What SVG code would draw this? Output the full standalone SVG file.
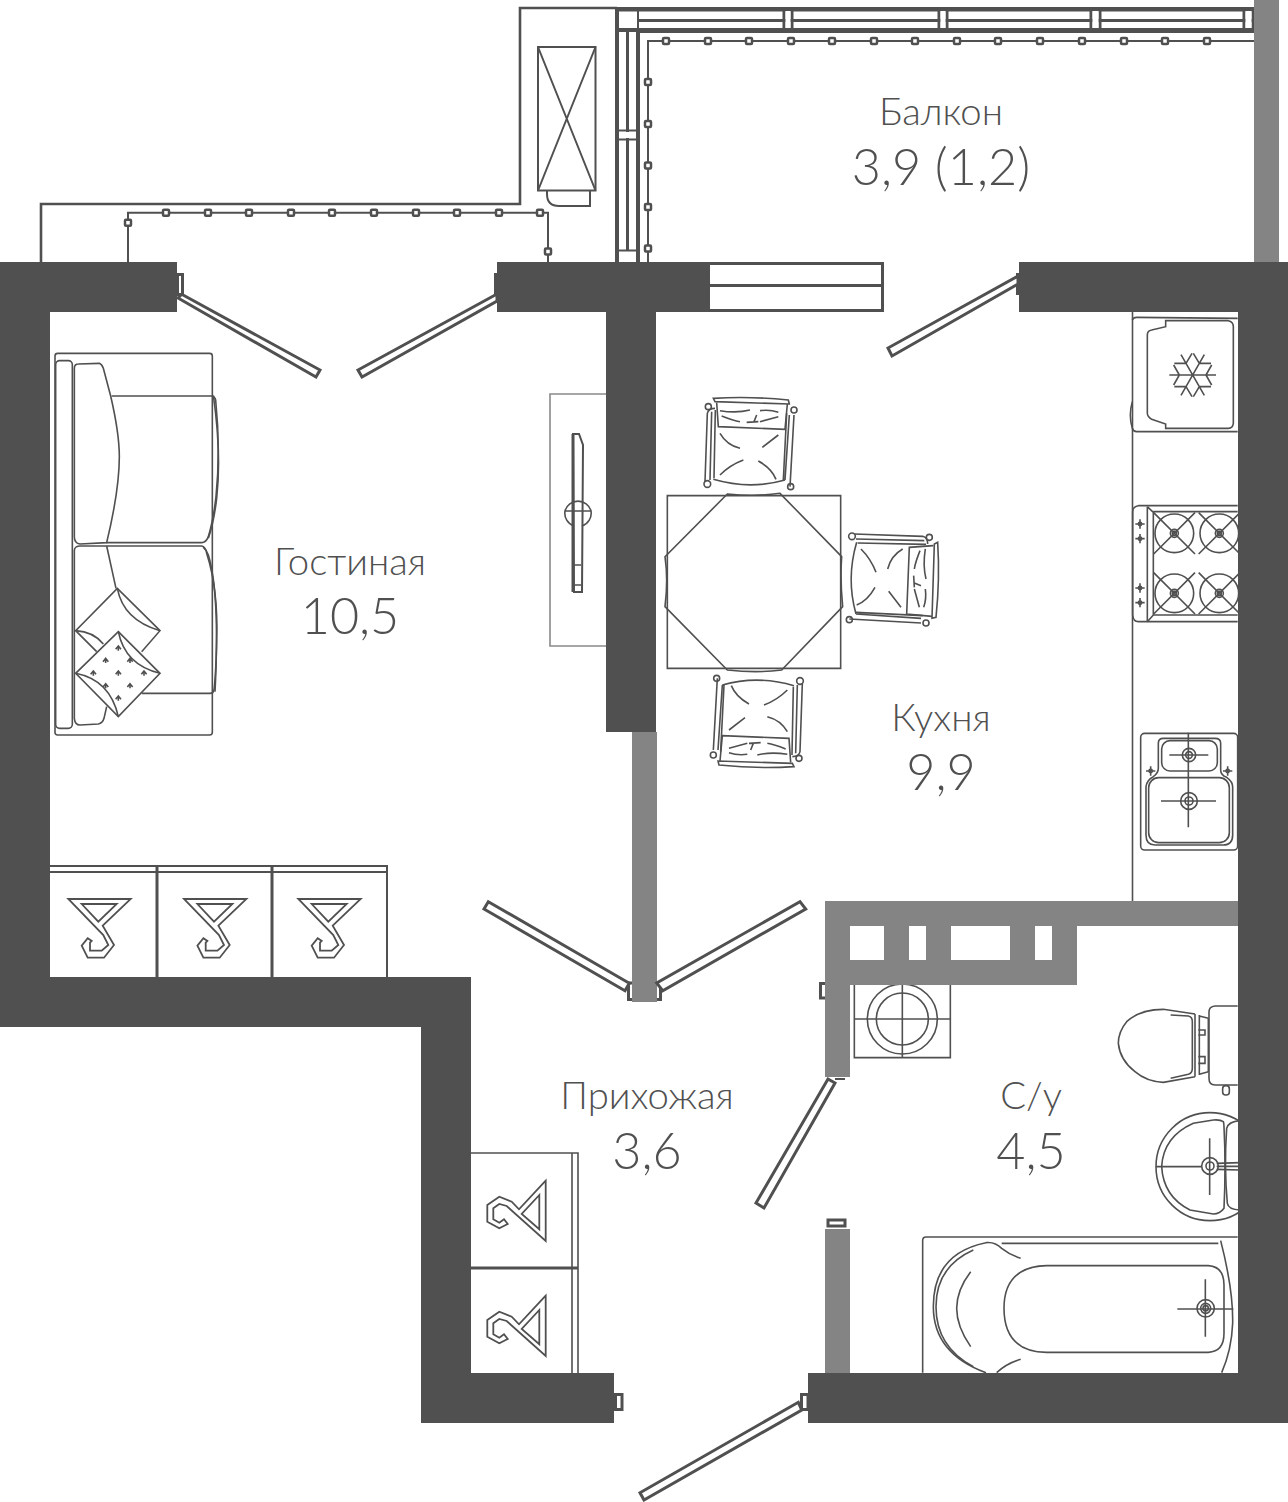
<svg xmlns="http://www.w3.org/2000/svg" width="1288" height="1502" viewBox="0 0 1288 1502">
<style>
.w{fill:#505050}
.g{fill:#848484}
.l3{fill:none;stroke:#505050;stroke-width:3}
.l2{fill:none;stroke:#505050;stroke-width:2}
.o{fill:none;stroke:#505050;stroke-width:2.600}
.h{fill:none;stroke:#505050;stroke-width:1.800}
.f *,.f{fill:none;stroke:#505050;stroke-width:1.600;vector-effect:non-scaling-stroke}
.door{fill:#fff;stroke:#505050;stroke-width:3}
.sq{fill:#fff;stroke:#505050;stroke-width:2.500}
.lab{font-family:"Lato","Liberation Sans",sans-serif;font-weight:300;fill:#505050;text-anchor:middle;font-size:38.300px}
.num{font-size:50.300px}
</style>
<defs>
<rect id="s" class="sq" x="-3" y="-3" width="6" height="6" rx="1"/>
<g id="hookA"><path class="h" d="M68.300 899L130.700 899L102.700 925.700L114 945L104 957.700L87.700 957.700L81.700 945.700L87.700 938.300L91.700 941L90 942.700L90 950.700L101.700 950.700L108.300 945L103.300 935Z"/><path class="h" d="M81.700 904L116.700 904L98.300 921.700Z"/></g>
<g id="hookB"><path class="h" d="M545.700 1180.700L519 1209.300L511.700 1201.700L499.300 1196.700L487.300 1205L487.300 1221.700L499.300 1228.300L507.700 1224L504 1219.300L499.300 1222.700L493.300 1219.300L493.300 1208.300L499.300 1204L506.700 1206L545.700 1241Z"/><path class="h" d="M539.300 1195L521.700 1214L539.300 1229.300Z"/></g>
<g id="chair" class="f">
<path d="M190,55 Q300,48 415,60 L418,72 L195,65 Z"/>
<path d="M200,68 L205,140 L405,148 L412,72"/>
<path d="M190,298 Q300,330 405,300"/>
<path d="M165,305 L172,100 Q175,85 195,85 M180,300 L185,95 M192,295 L196,90 M418,105 L405,300 M432,105 L420,320 M410,100 L400,300"/>
<circle cx="175" cy="80" r="9"/><circle cx="432" cy="90" r="9"/><circle cx="172" cy="312" r="10"/><circle cx="422" cy="320" r="9"/>
<path d="M210,160 Q230,195 270,205 M385,165 L337,202 M210,285 Q240,255 280,240 M325,243 Q365,265 378,298"/>
<path d="M210,92 Q260,100 300,90 M330,92 Q360,88 385,97 M215,108 Q250,122 270,125 M330,125 L385,110 M290,127 L325,125 M320,105 L312,125"/>
</g>
<path id="star" class="f" d="M-8,3 L0,-7 L8,3 M0,-7 L0,7"/>
<g id="knob" class="f"><circle r="5"/><path d="M-14,0H14M0,-14V14"/></g>
<g id="burner" class="f"><circle r="58"/><circle r="12"/><circle r="6"/><path d="M-62,-62L62,62M62,-62L-62,62"/></g>
</defs>
<rect width="1288" height="1502" fill="#fff"/>

<g id="balcony-frame">
<path class="o" d="M41 262V204H520V8H617"/>
<rect class="w" x="615" y="7" width="640" height="4.500"/>
<rect class="w" x="636" y="28" width="619" height="5"/>
<rect class="w" x="639" y="19" width="615" height="3"/>
<rect class="w" x="615" y="7" width="4" height="255"/>
<rect class="w" x="636" y="28" width="4" height="234"/>
<rect class="w" x="619" y="28" width="17" height="4"/>
<rect class="w" x="626" y="31" width="3" height="220"/>
<path class="l2" d="M638 11V28"/>
<path class="l2" d="M619 130.500H636M619 139.500H636M619 250.500H636"/>
<rect x="619" y="132" width="17" height="6" fill="#fff"/>
<path fill="none" stroke="#505050" stroke-width="3" d="M784 11V28M792 11V28M939 11V28M947 11V28M1091 11V28M1100 11V28M1244 11V28M1253 11V28"/>
<rect x="785.500" y="11" width="5" height="17" fill="#fff"/><rect x="940.500" y="11" width="5" height="17" fill="#fff"/><rect x="1092.500" y="11" width="6" height="17" fill="#fff"/><rect x="1245.500" y="11" width="6" height="17" fill="#fff"/>
<rect class="g" x="1254" y="0" width="25" height="262"/>
</g>

<g id="connectors">
<path class="l2" d="M548 262V212.700H128V262"/>
<path class="l2" d="M648 262V41H1254"/>
<use href="#s" x="128" y="222.700"/><use href="#s" x="166" y="212.700"/><use href="#s" x="208" y="212.700"/><use href="#s" x="249" y="212.700"/><use href="#s" x="291" y="212.700"/><use href="#s" x="332" y="212.700"/><use href="#s" x="374" y="212.700"/><use href="#s" x="416" y="212.700"/><use href="#s" x="457" y="212.700"/><use href="#s" x="499" y="212.700"/><use href="#s" x="540" y="212.700"/><use href="#s" x="548" y="251.500"/>
<use href="#s" x="666" y="41"/><use href="#s" x="708" y="41"/><use href="#s" x="749" y="41"/><use href="#s" x="791" y="41"/><use href="#s" x="832" y="41"/><use href="#s" x="874" y="41"/><use href="#s" x="915" y="41"/><use href="#s" x="957" y="41"/><use href="#s" x="998" y="41"/><use href="#s" x="1040" y="41"/><use href="#s" x="1082" y="41"/><use href="#s" x="1124" y="41"/><use href="#s" x="1165" y="41"/><use href="#s" x="1207" y="41"/>
<use href="#s" x="648" y="82"/><use href="#s" x="648" y="124"/><use href="#s" x="648" y="165.500"/><use href="#s" x="648" y="207"/><use href="#s" x="648" y="248.500"/>
</g>

<g id="ac-unit" class="l2">
<rect x="538" y="47" width="57.500" height="143.500"/>
<path d="M538 47L595.500 190.500M595.500 47L538 190.500"/>
<path d="M547 191V194Q547 206 559 206H590V191"/>
</g>

<g id="sofa" transform="translate(40 340) scale(.33333)" class="f">
<rect x="45" y="40" width="472" height="1145" rx="8"/>
<rect x="47" y="62" width="50" height="1103" rx="12"/>
<path d="M103,85 Q103,72 115,72 L178,70 Q185,72 190,85 L212,168 Q238,280 238,350 Q238,450 200,608 L120,612 Q103,610 103,590 Z"/>
<path d="M215,168 L515,168 Q525,170 527,180 Q542,330 528,470 Q520,540 505,590 Q498,608 485,608 L200,608"/>
<path d="M520,166 Q545,340 530,475 Q522,545 505,595"/>
<path d="M103,630 Q105,618 120,618 L485,618 Q497,620 500,640 Q535,750 530,900 Q528,1000 522,1050 Q520,1060 510,1060 L305,1060"/>
<path d="M490,622 Q500,630 505,645 Q540,760 525,1055"/>
<path d="M103,630 L103,1135 Q105,1155 120,1155 L175,1152 Q188,1150 192,1135 L200,1100"/>
<path d="M200,618 L228,745"/>
<path d="M305,935 L360,872 L232,745 L107,872 L170,935"/>
<path d="M232,745 Q250,840 360,872 M107,872 Q160,875 190,912"/>
<path d="M235,875 L360,1000 L235,1130 L107,1000 Z" style="fill:#fff"/>
<path d="M235,875 Q255,975 360,1000 M107,1000 Q210,1020 235,1130"/>
<use href="#star" x="235" y="925"/><use href="#star" x="197" y="962"/><use href="#star" x="270" y="962"/><use href="#star" x="160" y="1000"/><use href="#star" x="235" y="1000"/><use href="#star" x="312" y="1000"/><use href="#star" x="197" y="1038"/><use href="#star" x="270" y="1038"/><use href="#star" x="235" y="1075"/>
</g>

<g id="tv" class="f">
<rect x="550" y="394" width="58" height="252" style="stroke:#8a8a8a"/>
<path d="M573 434L579 434L583 445L582 592H574Z" style="stroke-width:2"/>
<path d="M573 434V592" style="stroke-width:3"/>
<path d="M565 511A13.500 13.500 0 0 1 591 511M565 511H591M565 511A13.500 13.500 0 0 0 574 526M582 526A13.500 13.500 0 0 0 591 511"/>
<path d="M574 565H581M574 585H581"/>
</g>

<g id="dining" transform="translate(650 380) scale(.33333)" class="f">
<rect x="52" y="347" width="520" height="518"/>
<path d="M232,342 Q320,350 390,340 L575,530 Q570,600 578,680 L395,870 Q320,880 232,870 L45,680 Q55,600 45,530 Z"/>
<use href="#chair"/>
<use href="#chair" transform="translate(730 597) rotate(90) translate(-300 -188)"/>
<use href="#chair" transform="translate(322 1027) rotate(180) translate(-300 -188)"/>
</g>

<g id="kitchen" class="f">
<path d="M1132.500 312V901"/>
</g>
<g id="fridge" transform="translate(1120 300) scale(.33333)" class="f">
<path d="M37,60 Q40,52 50,52 L353,55 M37,385 Q40,395 50,395 L353,395 M37,305 Q25,345 37,385"/>
<path d="M82,105 Q82,92 95,90 L137,80 L137,62 L325,62 Q340,65 340,80 L340,370 Q338,385 325,385 L137,385 L137,372 L95,358 Q82,350 82,340 Z"/>
<path d="M148,225H288M183,164L253,286M253,164L183,286M258,225L275,195M258,225L275,255M238,260L273,260M238,260L220,290M198,260L163,260M198,260L216,290M178,225L161,195M178,225L161,255M198,190L163,190M198,190L216,160M238,190L273,190M238,190L220,160"/>
</g>
<g id="stove" transform="translate(1120 300) scale(.33333)" class="f">
<path d="M353,617 L55,617 Q38,620 38,635 L38,945 Q40,965 55,965 L353,965"/>
<path d="M82,620V965M100,637V945M100,635H353M100,945H353M82,620L100,637M82,965L100,945"/>
<use href="#burner" x="163" y="700"/><use href="#burner" x="298" y="700"/><use href="#burner" x="163" y="880"/><use href="#burner" x="298" y="880"/>
<use href="#knob" x="60" y="672"/><use href="#knob" x="60" y="716"/><use href="#knob" x="60" y="864"/><use href="#knob" x="60" y="908"/>
</g>
<g id="sink" transform="translate(810 720) scale(.33333)" class="f">
<rect x="992" y="40" width="291" height="350" rx="12"/>
<path d="M1045,70 Q1045,55 1060,55 L1215,55 Q1232,55 1232,70 L1232,150 Q1232,165 1250,172 Q1268,185 1268,200 L1268,345 Q1268,375 1240,375 L1035,375 Q1008,375 1008,345 L1008,200 Q1010,180 1030,170 Q1045,160 1045,145 Z"/>
<rect x="1055" y="62" width="167" height="91" rx="25"/>
<rect x="1016" y="173" width="242" height="195" rx="30"/>
<path d="M1135,38V322M1078,105H1195M1053,243H1218"/>
<circle cx="1137" cy="105" r="20"/><circle cx="1137" cy="105" r="10"/>
<circle cx="1137" cy="243" r="25"/><circle cx="1137" cy="243" r="12"/>
<use href="#knob" x="1022" y="153"/><use href="#knob" x="1253" y="153"/>
</g>

<g id="shelves-living">
<path class="l2" d="M50 866H387V977M50 872H387"/>
<path class="l3" d="M157 866V977M272 866V977"/>
<use href="#hookA"/><use href="#hookA" x="115.700"/><use href="#hookA" x="230"/>
</g>
<g id="shelves-hall">
<path class="f" d="M471 1153H578V1373M572 1153V1373"/>
<path class="l3" d="M471 1268H578"/>
<use href="#hookB"/><use href="#hookB" y="115"/>
</g>

<g id="washer" transform="translate(810 720) scale(.33333)" class="f">
<rect x="133" y="780" width="288" height="233"/>
<circle cx="277" cy="897" r="105"/><circle cx="277" cy="897" r="78"/>
<path d="M133,897H421M277,780V1013"/>
</g>
<g id="toilet" transform="translate(810 720) scale(.33333)" class="f">
<path d="M1155,882 L1060,868 Q990,868 950,905 Q925,935 925,970 Q930,1020 975,1055 Q1010,1085 1060,1087 L1155,1070"/>
<path d="M1082,885 L1135,888 Q1147,890 1147,905 L1147,1045 Q1147,1060 1135,1063 L1082,1075"/>
<path d="M1155,882V1070M1168,885V1065M1168,888L1195,895M1168,1063L1195,1055M1195,895V1055"/>
<path d="M1165,930H1185V945H1165M1165,1010H1185V1030H1165"/>
<path d="M1283,858 L1215,858 Q1197,860 1197,875 L1197,1075 Q1197,1095 1215,1095 L1283,1095"/>
<rect x="1238" y="1097" width="20" height="28" rx="9"/>
</g>
<g id="basin" transform="translate(900 1090) scale(.33333)" class="f">
<circle cx="930" cy="230" r="162"/>
<path d="M970,95 Q960,88 940,90 L880,100 Q790,140 785,230 Q790,320 870,360 L940,372 Q960,372 972,355 Q978,230 972,110 Q972,100 970,95 Z"/>
<path d="M1020,92 Q985,95 980,115 Q972,230 982,340 Q985,358 1020,360"/>
<path d="M768,230H905M929,145V315M950,220L1020,218M950,238L1020,240M950,229H1020"/>
<circle cx="930" cy="228" r="25"/><circle cx="930" cy="228" r="12"/>
</g>
<g id="bath" transform="translate(900 1090) scale(.33333)" class="f">
<path d="M1013,441 L78,441 Q68,441 68,452 L68,848"/>
<path d="M258,458 Q100,490 100,650 Q100,790 258,848"/>
<path d="M220,480 Q108,530 108,650 Q108,770 220,830"/>
<path d="M258,458 Q285,455 305,475 Q330,495 362,505 M305,460 L955,460 M962,452 Q1000,600 998,700 Q995,780 965,848"/>
<path d="M440,527 Q312,530 312,655 Q312,785 440,787 L925,787 Q972,785 972,730 L972,585 Q972,530 925,527 Z"/>
<path d="M212,545 Q170,600 170,655 Q170,710 212,770 M290,848 Q320,820 362,808"/>
<path d="M832,657H1000M916,568V740"/>
<circle cx="917" cy="655" r="26"/><circle cx="917" cy="655" r="15"/><circle cx="917" cy="655" r="8"/>
</g>

<g id="window" class="l3"><rect x="708.500" y="263.500" width="174" height="47"/><path d="M708 285.500H883"/></g>

<g id="walls">
<rect class="w" x="0" y="262" width="177" height="50"/>
<rect class="w" x="0" y="262" width="50" height="765"/>
<rect class="w" x="0" y="977" width="471" height="50"/>
<rect class="w" x="421" y="977" width="50" height="446"/>
<rect class="w" x="421" y="1373" width="193" height="50"/>
<rect class="w" x="808" y="1373" width="480" height="50"/>
<rect class="w" x="1238" y="262" width="50" height="1161"/>
<rect class="w" x="1019" y="262" width="269" height="50"/>
<rect class="w" x="497" y="262" width="210" height="50"/>
<rect class="w" x="606" y="262" width="50" height="470"/>
<rect class="w" x="494" y="273" width="4" height="22"/>
<rect class="w" x="1016" y="273" width="4" height="22"/>
</g>
<g id="partitions">
<rect class="g" x="632" y="732" width="25" height="270"/>
<path class="g" fill-rule="evenodd" d="M825 901H1238V926H1077V985H850V1077H825ZM850 926V960H884V926ZM909 926V960H926V926ZM951 926V960H1010V926ZM1035 926V960H1052V926Z"/>
<rect class="g" x="825" y="1229" width="25" height="144"/>
</g>

<g id="doors">
<rect class="door" x="177.500" y="274.500" width="5" height="20"/>
<polygon class="door" points="181.700,294.300 320,370 316,377 178,298"/>
<polygon class="door" points="497,294 358,370 362,377 497,301"/>
<polygon class="door" points="1018,276 888,348 892,356 1018,284"/>
<path class="l3" d="M632 983H628.500V999.500H632M657 983H660.500V999.500H657"/>
<polygon class="door" points="488.300,901.700 484,909 625,990.700 629.300,983.300"/>
<polygon class="door" points="800,901.700 805.700,909 662.700,990.700 656.700,983"/>
<polygon class="door" points="756,1203 764,1208 835,1083 828,1079"/>
<path class="l2" d="M835 1079H845"/>
<rect class="door" x="828" y="1220" width="17" height="6"/>
<path class="l3" d="M825 983.500H820.500V998H825"/>
<rect class="door" x="615.500" y="1394.500" width="6.500" height="15"/>
<rect class="door" x="801.500" y="1394.500" width="6.500" height="15"/>
<polygon class="door" points="798.300,1402.300 801.700,1410 644,1500 640,1492.700"/>
</g>

<g id="labels">
<text class="lab" x="941" y="125">Балкон</text>
<text class="lab num" x="941" y="185">3,9 (1,2)</text>
<text class="lab" x="350" y="575">Гостиная</text>
<text class="lab num" x="350" y="634">10,5</text>
<text class="lab" x="941" y="731">Кухня</text>
<text class="lab num" x="941" y="790">9,9</text>
<text class="lab" x="647" y="1109">Прихожая</text>
<text class="lab num" x="647" y="1169">3,6</text>
<text class="lab" x="1031" y="1109">С/у</text>
<text class="lab num" x="1031" y="1169">4,5</text>
</g>
</svg>
